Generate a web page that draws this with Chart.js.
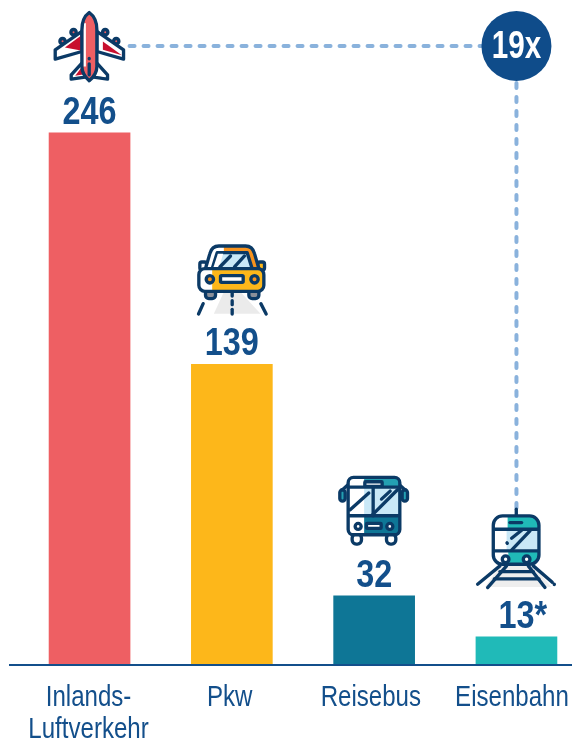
<!DOCTYPE html>
<html lang="de">
<head>
    <meta charset="UTF-8">
    <title>Verkehrsmittel</title>
    <script src="https://cdn.jsdelivr.net/npm/chart.js@4"></script>
    <style>
        html, body { margin: 0; padding: 0; background: #fff; overflow: hidden; }
        #wrap { width: 572px; height: 739px; overflow: hidden; }
        canvas { display: block; }
    </style>
</head>
<body>
    <div id="wrap"><canvas id="chart" width="600" height="739"></canvas></div>
    <script>
        const categories = [['Inlands-', 'Luftverkehr'], 'Pkw', 'Reisebus', 'Eisenbahn'];
        const values = [246, 139, 32, 13];
        const valueLabels = ['246', '139', '32', '13'];
        const valueNotes = ['', '', '', '*'];
        const barColors = ['#ee5f63', '#fdb71a', '#0e7696', '#20bab8'];
        const factorLabel = '19x';

        const NAVY = '#134f8b';
        const INK = '#0b3a66';
        const SKY = '#c9e8f7';
        const FONT = '"Liberation Sans", sans-serif';
        const NARROW = 0.82; // no condensed face installed, squeeze the text instead

        function narrowText(ctx, text, x, y, squeeze = NARROW) {
            ctx.save();
            ctx.translate(x, y);
            ctx.scale(squeeze, 1);
            ctx.fillText(text, 0, 0);
            ctx.restore();
        }

        // icon helpers, coordinates are in 1/3 px
        function shape(ctx, pts, fill, stroke) {
            ctx.beginPath();
            pts.forEach((p, i) => i ? ctx.lineTo(p[0], p[1]) : ctx.moveTo(p[0], p[1]));
            ctx.closePath();
            if (fill) { ctx.fillStyle = fill; ctx.fill(); }
            if (stroke) { ctx.strokeStyle = INK; ctx.stroke(); }
        }
        function line(ctx, x1, y1, x2, y2) {
            ctx.beginPath();
            ctx.moveTo(x1, y1);
            ctx.lineTo(x2, y2);
            ctx.strokeStyle = INK;
            ctx.stroke();
        }
        function dot(ctx, x, y, r, fill) {
            ctx.beginPath();
            ctx.arc(x, y, r, 0, Math.PI * 2);
            ctx.fillStyle = fill;
            ctx.fill();
            ctx.strokeStyle = INK;
            ctx.stroke();
        }
        function box(ctx, x, y, w, h, r, fill) {
            ctx.beginPath();
            ctx.roundRect(x, y, w, h, r);
            if (fill) { ctx.fillStyle = fill; ctx.fill(); }
            ctx.strokeStyle = INK;
            ctx.stroke();
        }

        function plane(ctx) {
            const red = '#c8102e';
            [[123, 225, 165, 232, 155, 190], [232, 225, 190, 232, 200, 190]].forEach(t => {
                shape(ctx, [[t[4], t[5]], [t[0], t[1]], [t[0], 238], [t[2], t[3]]], '#fff', true);
            });
            shape(ctx, [[152, 205], [135, 228], [158, 224]], red);
            shape(ctx, [[203, 205], [225, 232], [197, 224]], '#fff');
            [[130, 97], [97, 124], [225, 97], [258, 124]].forEach(p => dot(ctx, p[0], p[1], 8, '#ee5f63'));
            shape(ctx, [[155, 95], [75, 150], [75, 178], [155, 155]], '#fff', true);
            shape(ctx, [[200, 95], [280, 150], [280, 178], [200, 155]], '#fff', true);
            shape(ctx, [[152, 108], [104, 143], [152, 152]], red);
            shape(ctx, [[218, 125], [275, 166], [218, 150]], red);
            ctx.beginPath();
            ctx.moveTo(177, 38);
            ctx.bezierCurveTo(160, 50, 155, 70, 155, 90);
            ctx.lineTo(155, 200);
            ctx.bezierCurveTo(155, 215, 165, 232, 177, 243);
            ctx.bezierCurveTo(190, 232, 200, 215, 200, 200);
            ctx.lineTo(200, 90);
            ctx.bezierCurveTo(200, 70, 194, 50, 177, 38);
            ctx.closePath();
            ctx.fillStyle = '#ee5f63';
            ctx.fill();
            ctx.fillStyle = '#fff';
            ctx.fillRect(159, 70, 8, 130);
            ctx.strokeStyle = INK;
            ctx.stroke();
            line(ctx, 177, 192, 177, 225);
            line(ctx, 177, 176, 177, 177);
        }

        function car(ctx) {
            shape(ctx, [[130, 170], [180, 170], [240, 235], [100, 235]], '#ebebeb');
            box(ctx, 75, 160, 30, 30, 10, '#8a8f99');
            box(ctx, 205, 160, 30, 30, 10, '#8a8f99');
            box(ctx, 58, 80, 20, 24, 6, '#fff');
            box(ctx, 232, 80, 20, 24, 6, '#fdb71a');
            ctx.beginPath();
            ctx.moveTo(75, 100);
            ctx.lineTo(88, 55);
            ctx.quadraticCurveTo(94, 32, 115, 32);
            ctx.lineTo(195, 32);
            ctx.quadraticCurveTo(216, 32, 222, 55);
            ctx.lineTo(235, 100);
            ctx.closePath();
            ctx.fillStyle = '#fff';
            ctx.fill();
            ctx.save();
            ctx.clip();
            ctx.fillStyle = '#f7931e';
            ctx.fillRect(130, 30, 110, 72);
            ctx.restore();
            ctx.stroke();
            shape(ctx, [[95, 100], [110, 52], [200, 52], [215, 100]], SKY, true);
            shape(ctx, [[98, 98], [112, 55], [128, 55], [115, 98]], '#fff');
            line(ctx, 118, 95, 150, 62);
            line(ctx, 162, 95, 192, 62);
            ctx.beginPath();
            ctx.roundRect(55, 100, 195, 68, 18);
            ctx.fillStyle = '#fdb71a';
            ctx.fill();
            ctx.save();
            ctx.clip();
            ctx.fillStyle = '#fff';
            ctx.fillRect(50, 95, 45, 80);
            ctx.restore();
            ctx.stroke();
            dot(ctx, 88, 132, 11, '#f7931e');
            dot(ctx, 222, 132, 11, '#f7931e');
            box(ctx, 120, 121, 68, 20, 3, '#fff');
            line(ctx, 155, 172, 155, 182);
            line(ctx, 155, 196, 155, 208);
            line(ctx, 155, 222, 155, 236);
            line(ctx, 68, 205, 54, 236);
            line(ctx, 241, 205, 257, 236);
        }

        function bus(ctx) {
            const teal = '#24a0b2';
            box(ctx, 82, 205, 28, 30, 12, '#fff');
            box(ctx, 185, 205, 28, 30, 12, '#fff');
            box(ctx, 45, 72, 16, 34, 8, teal);
            box(ctx, 232, 72, 16, 34, 8, teal);
            line(ctx, 53, 72, 72, 55);
            line(ctx, 240, 72, 222, 55);
            ctx.beginPath();
            ctx.roundRect(70, 35, 155, 172, 16);
            ctx.fillStyle = '#fff';
            ctx.fill();
            ctx.save();
            ctx.clip();
            ctx.fillStyle = teal;
            ctx.fillRect(118, 35, 110, 28);
            ctx.fillStyle = SKY;
            ctx.fillRect(118, 65, 105, 85);
            ctx.fillStyle = '#0e7696';
            ctx.fillRect(118, 150, 110, 60);
            ctx.restore();
            ctx.stroke();
            line(ctx, 72, 64, 223, 64);
            line(ctx, 72, 150, 223, 150);
            line(ctx, 145, 64, 145, 150);
            line(ctx, 76, 132, 132, 82);
            line(ctx, 142, 148, 218, 72);
            line(ctx, 170, 100, 196, 76);
            box(ctx, 120, 48, 52, 14, 2, '#fff');
            dot(ctx, 100, 182, 9, '#fff');
            dot(ctx, 195, 182, 9, '#fff');
            box(ctx, 125, 173, 44, 15, 2, '#fff');
        }

        function train(ctx) {
            const teal = '#20bab8';
            shape(ctx, [[105, 195], [205, 195], [260, 258], [60, 258]], '#eeeeee');
            line(ctx, 105, 195, 38, 250);
            line(ctx, 205, 195, 262, 244);
            line(ctx, 125, 195, 68, 260);
            line(ctx, 190, 195, 240, 260);
            line(ctx, 105, 212, 205, 212);
            line(ctx, 88, 234, 222, 234);
            line(ctx, 268, 250, 268, 251);
            line(ctx, 154, 25, 154, 45);
            ctx.beginPath();
            ctx.roundRect(85, 45, 137, 145, 28);
            ctx.fillStyle = '#fff';
            ctx.fill();
            ctx.save();
            ctx.clip();
            ctx.fillStyle = teal;
            ctx.fillRect(128, 45, 95, 40);
            ctx.fillStyle = SKY;
            ctx.fillRect(125, 85, 97, 65);
            ctx.fillStyle = teal;
            ctx.fillRect(130, 150, 95, 42);
            ctx.restore();
            ctx.stroke();
            line(ctx, 87, 85, 220, 85);
            line(ctx, 87, 150, 220, 150);
            line(ctx, 140, 112, 170, 88);
            line(ctx, 140, 148, 195, 90);
            line(ctx, 126, 126, 127, 127);
            line(ctx, 135, 65, 170, 65);
            dot(ctx, 122, 175, 10, '#fff');
            dot(ctx, 185, 175, 10, '#fff');
        }

        // origin = bar centre and bar top inside the traced icon
        const icons = [
            { draw: plane, cx: 178, top: 399 },
            { draw: car, cx: 154, top: 387 },
            { draw: bus, cx: 148, top: 390 },
            { draw: train, cx: 154.5, top: 408 }
        ];

        const decorations = {
            id: 'decorations',
            afterDatasetsDraw(chart) {
                const ctx = chart.ctx;
                const bars = chart.getDatasetMeta(0).data;
                const base = chart.scales.y.getPixelForValue(0);
                const first = bars[0];
                const last = bars[3];

                // baseline, runs past the plot area on the left
                ctx.save();
                ctx.fillStyle = NAVY;
                ctx.fillRect(9, base - 1, 563, 2);

                // connector between first and last bar
                const ringY = 46;
                ctx.strokeStyle = '#8ab2dc';
                ctx.lineWidth = 4;
                ctx.lineCap = 'round';
                ctx.setLineDash([5, 9]);
                ctx.beginPath();
                ctx.moveTo(first.x + 40, ringY);
                ctx.lineTo(last.x, ringY);
                ctx.moveTo(last.x, ringY + 37);
                ctx.lineTo(last.x, 512);
                ctx.stroke();
                ctx.setLineDash([]);

                ctx.beginPath();
                ctx.arc(last.x, ringY, 35, 0, Math.PI * 2);
                ctx.fillStyle = '#0f4c8a';
                ctx.fill();
                ctx.fillStyle = '#fff';
                ctx.textAlign = 'center';
                ctx.textBaseline = 'alphabetic';
                ctx.font = 'bold 39.5px ' + FONT;
                narrowText(ctx, factorLabel, last.x, ringY + 11.5, 0.75);

                // value labels and icons sit on the bars
                bars.forEach((bar, i) => {
                    ctx.fillStyle = NAVY;
                    ctx.font = 'bold 39.5px ' + FONT;
                    ctx.textAlign = 'center';
                    narrowText(ctx, valueLabels[i], bar.x, bar.y - 9);
                    if (valueNotes[i]) {
                        // the note hangs off the number, the digits stay centred
                        const half = ctx.measureText(valueLabels[i]).width * NARROW / 2;
                        ctx.textAlign = 'left';
                        narrowText(ctx, valueNotes[i], bar.x + half, bar.y - 9);
                    }
                    const icon = icons[i];
                    ctx.save();
                    ctx.translate(bar.x - icon.cx / 3, bar.y - icon.top / 3);
                    ctx.scale(1 / 3, 1 / 3);
                    ctx.lineWidth = 10;
                    ctx.lineCap = 'round';
                    ctx.lineJoin = 'round';
                    icon.draw(ctx);
                    ctx.restore();
                });

                // category labels drift a little left of their bars in the original
                ctx.fillStyle = NAVY;
                ctx.font = '29px ' + FONT;
                ctx.textAlign = 'center';
                categories.forEach((label, i) => {
                    const x = chart.scales.x.getPixelForTick(i) - 1 - i * 1.15;
                    [].concat(label).forEach((row, r) => narrowText(ctx, row, x, base + 41 + r * 31.5, 0.83));
                });
                ctx.restore();
            }
        };

        new Chart(document.getElementById('chart').getContext('2d'), {
            type: 'bar',
            data: {
                labels: categories,
                datasets: [{
                    data: values,
                    backgroundColor: barColors,
                    barThickness: 81
                }]
            },
            options: {
                responsive: false,
                animation: false,
                layout: { padding: { left: 18.4, right: 12.4, top: 0, bottom: 0 } },
                plugins: { legend: { display: false }, tooltip: { enabled: false } },
                scales: {
                    x: {
                        grid: { display: false, drawTicks: false },
                        border: { display: false },
                        afterFit(scale) { scale.height = 74; },
                        ticks: { display: false, autoSkip: false }
                    },
                    y: { display: false, min: 0, max: 307.4 }
                }
            },
            plugins: [decorations]
        });
    </script>
</body>
</html>
